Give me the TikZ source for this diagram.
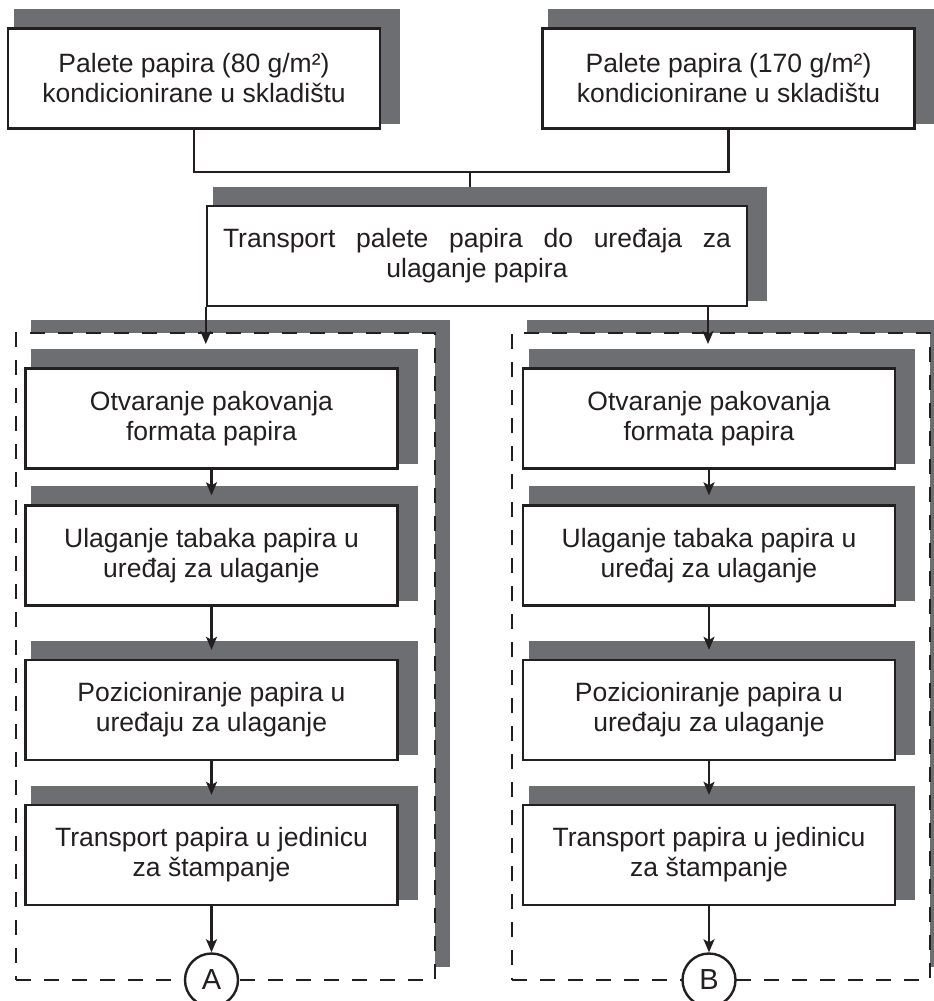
\documentclass[tikz,border=0pt]{standalone}
\usepackage{fontspec}
\setmainfont{Liberation Sans}
\usetikzlibrary{positioning,arrows.meta,backgrounds,shadows}
\definecolor{ink}{RGB}{35,31,32}
\definecolor{dropgray}{RGB}{109,110,113}
\tikzstyle{arrow} = [line width=2.1pt, draw=ink, -{Stealth[length=13pt,width=11pt,inset=3pt]}]
\tikzstyle{conn} = [line width=2.1pt, draw=ink]
\tikzset{
 box/.style
  = {rectangle, draw=ink, fill=white, text=ink, line width=2.4pt, align=center,
     minimum width=372pt, minimum height=100pt},
 grp/.style
  = {rectangle, draw=ink, fill=white, line width=2.3pt, dash pattern=on 15pt off 13pt,
     general shadow={fill=dropgray, shadow xshift=15pt, shadow yshift=13.5pt}},
 con/.style
  = {circle, draw=ink, fill=white, text=ink, line width=2.4pt, minimum size=53pt,
     inner sep=0pt, font=\fontsize{29}{30}\selectfont},
}
\newcommand{\boxshade}[1]{\fill[dropgray] ([xshift=7pt,yshift=18pt]#1.north west) rectangle ([xshift=19pt,yshift=6pt]#1.south east);}

\begin{document}
\begin{tikzpicture}[x=1pt, y=-1pt, font=\fontsize{26.5}{30}\selectfont]

\useasboundingbox (0,0) rectangle (934,1001);

% Paper pallets
\node[box] (pal1) at (194,78.5) {Palete papira (80 g/m²)\\kondicionirane u skladištu};
\node[box] (pal2) at (728.5,78.5) {Palete papira (170 g/m²)\\kondicionirane u skladištu};

% Transport of the pallet
\node[box, minimum width=540pt] (trans) at (477,256)
  {\makebox[508pt][s]{Transport palete papira do uređaja za}\\ulaganje papira};

% Left line
\node[box] (L1) at (211.5,418.5) {Otvaranje pakovanja\\formata papira};
\node[box] (L2) at (211.5,555.5) {Ulaganje tabaka papira u\\uređaj za ulaganje};
\node[box] (L3) at (211.5,710) {Pozicioniranje papira u\\uređaju za ulaganje};
\node[box] (L4) at (211.5,855) {Transport papira u jedinicu\\za štampanje};
\node[con] (A) at (211.5,980) {A};

% Right line
\node[box] (R1) at (709,418.5) {Otvaranje pakovanja\\formata papira};
\node[box] (R2) at (709,555.5) {Ulaganje tabaka papira u\\uređaj za ulaganje};
\node[box] (R3) at (709,710) {Pozicioniranje papira u\\uređaju za ulaganje};
\node[box] (R4) at (709,855) {Transport papira u jedinicu\\za štampanje};
\node[con] (B) at (709,980) {B};

\coordinate (junct) at (470,172);
\coordinate (inL) at (0,344);
\coordinate (inR) at (708,344);

% Groups and shadows
\begin{pgfonlayer}{background}
\draw[conn] (junct) -- (junct |- trans.north);
\node[grp, minimum width=419pt, minimum height=647pt] (grpL) at (225.5,656.5) {};
\node[grp, minimum width=418pt, minimum height=647pt] (grpR) at (721,656.5) {};
\boxshade{pal1}
\boxshade{pal2}
\boxshade{trans}
\boxshade{L1} \boxshade{L2} \boxshade{L3} \boxshade{L4}
\boxshade{R1} \boxshade{R2} \boxshade{R3} \boxshade{R4}
\end{pgfonlayer}

% Connectors
\draw[conn] (pal1.south) |- (junct) -| (pal2.south);
\draw[arrow] (trans.south west) -- (trans.south west |- inL);
\draw[arrow] (trans.south -| inR) -- (inR);
\draw[arrow, shorten >=9pt] (L1) -- (L2);
\draw[arrow, shorten >=9pt] (L2) -- (L3);
\draw[arrow, shorten >=9pt] (L3) -- (L4);
\draw[arrow] (L4) -- (A);
\draw[arrow, shorten >=9pt] (R1) -- (R2);
\draw[arrow, shorten >=9pt] (R2) -- (R3);
\draw[arrow, shorten >=9pt] (R3) -- (R4);
\draw[arrow] (R4) -- (B);

\end{tikzpicture}
\end{document}
